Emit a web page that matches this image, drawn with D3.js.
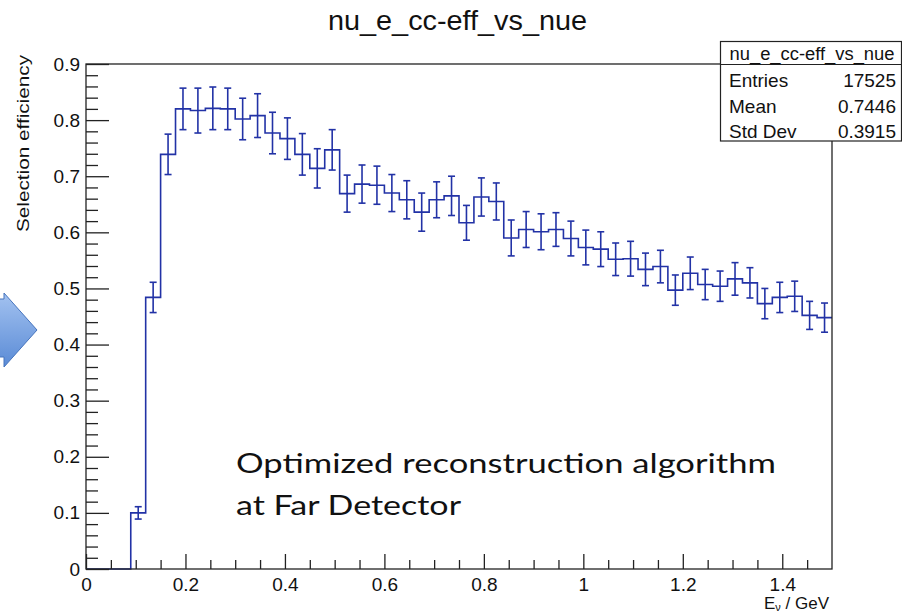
<!DOCTYPE html>
<html>
<head>
<meta charset="utf-8">
<script src="https://cdn.jsdelivr.net/npm/d3@7"></script>
<style>
  body { margin: 0; background: #fff; }
  svg { display: block; font-family: "Liberation Sans", Arial, sans-serif; }
</style>
</head>
<body>
<div id="chart"></div>
<script>
// lower edge of each filled bin (GeV), bin width 0.03
const binLow = [0.09, 0.12, 0.15, 0.18, 0.21, 0.24, 0.27, 0.30, 0.33, 0.36,
  0.39, 0.42, 0.45, 0.48, 0.51, 0.54, 0.57, 0.60, 0.63, 0.66,
  0.69, 0.72, 0.75, 0.78, 0.81, 0.84, 0.87, 0.90, 0.93, 0.96,
  0.99, 1.02, 1.05, 1.08, 1.11, 1.14, 1.17, 1.20, 1.23, 1.26,
  1.29, 1.32, 1.35, 1.38, 1.41, 1.44, 1.47]
const binWidth = 0.03
const efficiency = [0.100, 0.484, 0.739, 0.820, 0.817, 0.821, 0.820, 0.802, 0.808, 0.777,
  0.767, 0.739, 0.714, 0.747, 0.669, 0.686, 0.684, 0.670, 0.658, 0.636,
  0.658, 0.665, 0.617, 0.663, 0.655, 0.590, 0.605, 0.601, 0.605, 0.589,
  0.573, 0.570, 0.552, 0.553, 0.534, 0.539, 0.497, 0.527, 0.507, 0.504,
  0.517, 0.510, 0.473, 0.484, 0.486, 0.452, 0.448]
const errors = [0.011, 0.027, 0.036, 0.037, 0.040, 0.038, 0.037, 0.037, 0.039, 0.037,
  0.037, 0.037, 0.035, 0.036, 0.033, 0.034, 0.034, 0.033, 0.034, 0.034,
  0.032, 0.035, 0.031, 0.034, 0.033, 0.032, 0.032, 0.032, 0.030, 0.031,
  0.031, 0.031, 0.029, 0.031, 0.029, 0.029, 0.027, 0.029, 0.027, 0.027,
  0.029, 0.027, 0.027, 0.027, 0.027, 0.025, 0.026]

const xMajor = [0, 0.2, 0.4, 0.6, 0.8, 1, 1.2, 1.4]
const xMinor = [0.05, 0.1, 0.15, 0.25, 0.3, 0.35, 0.45, 0.5, 0.55, 0.65, 0.7, 0.75,
  0.85, 0.9, 0.95, 1.05, 1.1, 1.15, 1.25, 1.3, 1.35, 1.45]
const yMajor = [0, 0.1, 0.2, 0.3, 0.4, 0.5, 0.6, 0.7, 0.8, 0.9]
const yMinor = [0.02, 0.04, 0.06, 0.08, 0.12, 0.14, 0.16, 0.18, 0.22, 0.24, 0.26, 0.28,
  0.32, 0.34, 0.36, 0.38, 0.42, 0.44, 0.46, 0.48, 0.52, 0.54, 0.56, 0.58,
  0.62, 0.64, 0.66, 0.68, 0.72, 0.74, 0.76, 0.78, 0.82, 0.84, 0.86, 0.88]

const statLabels = ["Entries", "Mean", "Std Dev"]
const statValues = ["17525", "0.7446", "0.3915"]
const histName = "nu_e_cc-eff_vs_nue"

const W = 902, H = 614
const histColor = "#2232a6"
const frameColor = "#222"

var svg = d3.select("#chart").append("svg")
  .attr("width", W)
  .attr("height", H)

var x = d3.scaleLinear().domain([0, 1.5]).range([86, 832])
var y = d3.scaleLinear().domain([0, 0.9]).range([569, 64])

// blue arrow from the slide, mostly cut off on the left
var grad = svg.append("defs").append("linearGradient")
  .attr("id", "arrowGrad")
  .attr("x1", 0).attr("y1", 0).attr("x2", 0).attr("y2", 1)
grad.append("stop").attr("offset", "0%").attr("stop-color", "#a3c2f0")
grad.append("stop").attr("offset", "100%").attr("stop-color", "#5a8bd6")
svg.append("path")
  .attr("d", "M-40,299 L4,299 L4,293 L37,330 L4,367 L4,357 L-40,357 Z")
  .attr("fill", "url(#arrowGrad)")
  .attr("stroke", "#4674bd")
  .attr("stroke-width", 1)

// title
svg.append("text")
  .attr("x", 457.5)
  .attr("y", 30)
  .attr("text-anchor", "middle")
  .attr("textLength", 259)
  .attr("lengthAdjust", "spacingAndGlyphs")
  .style("font-size", "28px")
  .style("fill", "#111")
  .text(histName)

// histogram outline (step)
var steps = [[0, 0], [binLow[0], 0]]
binLow.forEach(function (lo, i) {
  steps.push([lo, efficiency[i]])
  steps.push([lo + binWidth, efficiency[i]])
})
var stepLine = d3.line()
  .x(function (d) { return x(d[0]) })
  .y(function (d) { return y(d[1]) })
svg.append("path")
  .attr("d", stepLine(steps))
  .attr("fill", "none")
  .attr("stroke", histColor)
  .attr("stroke-width", 1.6)

// error bars
var bars = svg.append("g")
  .attr("stroke", histColor)
  .attr("stroke-width", 1.6)
  .selectAll("g")
  .data(binLow)
  .enter()
  .append("g")
bars.append("line")
  .attr("x1", function (d) { return x(d + binWidth / 2) })
  .attr("x2", function (d) { return x(d + binWidth / 2) })
  .attr("y1", function (d, i) { return y(efficiency[i] + errors[i]) })
  .attr("y2", function (d, i) { return y(efficiency[i] - errors[i]) })
bars.append("line")
  .attr("x1", function (d) { return x(d + binWidth / 2) - 3.5 })
  .attr("x2", function (d) { return x(d + binWidth / 2) + 3.5 })
  .attr("y1", function (d, i) { return y(efficiency[i] + errors[i]) })
  .attr("y2", function (d, i) { return y(efficiency[i] + errors[i]) })
bars.append("line")
  .attr("x1", function (d) { return x(d + binWidth / 2) - 3.5 })
  .attr("x2", function (d) { return x(d + binWidth / 2) + 3.5 })
  .attr("y1", function (d, i) { return y(efficiency[i] - errors[i]) })
  .attr("y2", function (d, i) { return y(efficiency[i] - errors[i]) })

// frame
svg.append("rect")
  .attr("x", x(0))
  .attr("y", y(0.9))
  .attr("width", x(1.5) - x(0))
  .attr("height", y(0) - y(0.9))
  .attr("fill", "none")
  .attr("stroke", frameColor)
  .attr("stroke-width", 1.3)

// axes, ticks point into the frame
svg.append("g")
  .attr("transform", "translate(0," + y(0) + ")")
  .call(d3.axisBottom(x).tickValues(xMajor).tickSize(-15).tickPadding(8.5)
    .tickFormat(d3.format("~g")))
svg.append("g")
  .attr("transform", "translate(0," + y(0) + ")")
  .call(d3.axisBottom(x).tickValues(xMinor).tickSize(-9).tickFormat(""))

svg.append("g")
  .attr("transform", "translate(" + x(0) + ",0)")
  .call(d3.axisLeft(y).tickValues(yMajor).tickSize(-23).tickPadding(6)
    .tickFormat(d3.format("~g")))
svg.append("g")
  .attr("transform", "translate(" + x(0) + ",0)")
  .call(d3.axisLeft(y).tickValues(yMinor).tickSize(-12).tickFormat(""))

svg.selectAll(".domain").remove()
svg.selectAll(".tick line").attr("stroke", frameColor).attr("stroke-width", 1.3)
svg.selectAll(".tick text")
  .style("font-family", "'Liberation Sans', Arial, sans-serif")
  .style("font-size", "19px")
  .style("fill", "#111")

// axis titles
svg.append("text")
  .attr("transform", "translate(29,55) rotate(-90)")
  .attr("text-anchor", "end")
  .attr("textLength", 177)
  .attr("lengthAdjust", "spacingAndGlyphs")
  .style("font-size", "17px")
  .style("fill", "#111")
  .text("Selection efficiency")

var xTitle = svg.append("text")
  .attr("x", 829)
  .attr("y", 609)
  .attr("text-anchor", "end")
  .style("font-size", "17px")
  .style("fill", "#111")
xTitle.append("tspan").text("E")
xTitle.append("tspan").attr("dy", 2).style("font-size", "11px").text("ν")
xTitle.append("tspan").attr("dy", -2).text(" / GeV")

// stats box
var stats = svg.append("g")
stats.append("rect")
  .attr("x", 720.5).attr("y", 41.5)
  .attr("width", 181).attr("height", 99.5)
  .attr("fill", "#fff")
  .attr("stroke", frameColor)
  .attr("stroke-width", 1.2)
stats.append("line")
  .attr("x1", 720.5).attr("x2", 901.5)
  .attr("y1", 64.5).attr("y2", 64.5)
  .attr("stroke", frameColor)
  .attr("stroke-width", 1.2)
stats.append("text")
  .attr("x", 812).attr("y", 59.5)
  .attr("text-anchor", "middle")
  .attr("textLength", 165)
  .attr("lengthAdjust", "spacingAndGlyphs")
  .style("font-size", "18px")
  .style("fill", "#111")
  .text(histName)
statLabels.forEach(function (label, i) {
  stats.append("text")
    .attr("x", 729).attr("y", 87 + i * 25.7)
    .style("font-size", "19px")
    .style("fill", "#111")
    .text(label)
  stats.append("text")
    .attr("x", 896).attr("y", 87 + i * 25.7)
    .attr("text-anchor", "end")
    .style("font-size", "19px")
    .style("fill", "#111")
    .text(statValues[i])
})

// slide annotation
var note = svg.append("g")
  .style("font-family", "Lato, 'Open Sans', sans-serif")
  .style("font-size", "27px")
  .style("fill", "#111")
note.append("text")
  .attr("x", 236).attr("y", 473)
  .attr("textLength", 540)
  .attr("lengthAdjust", "spacingAndGlyphs")
  .text("Optimized reconstruction algorithm")
note.append("text")
  .attr("x", 236).attr("y", 515)
  .attr("textLength", 225)
  .attr("lengthAdjust", "spacingAndGlyphs")
  .text("at Far Detector")
</script>
</body>
</html>
